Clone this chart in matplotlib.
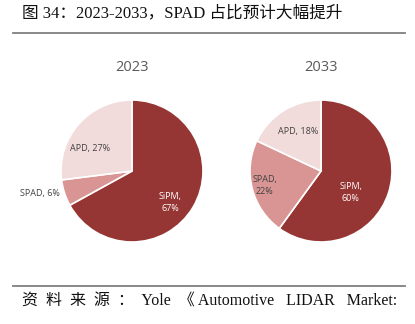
import matplotlib.pyplot as plt
from matplotlib.lines import Line2D

# Data
years = ["2023", "2033"]
categories = ["SiPM", "SPAD", "APD"]
share_2023 = [67, 6, 27]
share_2033 = [60, 22, 18]
colors = ["#963634", "#D99594", "#F2DCDB"]

W, H = 415, 324
fig = plt.figure(figsize=(W / 100, H / 100), dpi=100)

serif_cjk = ["Liberation Serif", "Noto Sans CJK SC"]
label_font = ["Open Sans", "DejaVu Sans"]


def px_axes(cx, cy, r):
    return fig.add_axes([(cx - r) / W, (H - cy - r) / H, 2 * r / W, 2 * r / H])


# label layout (unit-circle coords) and text colours
layouts = {
    "2023": {"SiPM": (0.54, -0.44, "SiPM,\n{}%"), "SPAD": (-1.30, -0.32, "SPAD, {}%"),
             "APD": (-0.59, 0.32, "APD, {}%")},
    "2033": {"SiPM": (0.42, -0.30, "SiPM,\n{}%"), "SPAD": (-0.79, -0.20, "SPAD,\n{}%"),
             "APD": (-0.32, 0.55, "APD, {}%")},
}
centers = {"2023": (132, 171, 71), "2033": (321, 171, 71)}

for year, values in zip(years, [share_2023, share_2033]):
    cx, cy, r = centers[year]
    ax = px_axes(cx, cy, r)
    ax.pie(values, colors=colors, startangle=90, counterclock=False, radius=1,
           wedgeprops=dict(edgecolor="white", linewidth=1.2))
    ax.set_xlim(-1, 1)
    ax.set_ylim(-1, 1)
    ax.set_aspect("equal")
    ax.axis("off")
    ax.text(0, 1.46, year, ha="center", va="center", fontsize=10.5,
            color="#595959", family=label_font, clip_on=False)
    for cat, v in zip(categories, values):
        x, y, fmt = layouts[year][cat]
        ax.text(x, y, fmt.format(v), ha="center", va="center", fontsize=6.5,
                color="white" if cat == "SiPM" else "#404040",
                family=label_font, linespacing=1.45, clip_on=False)

# title and rules
fig.text(22 / W, 1 - 13 / H, "图 34：2023-2033，SPAD 占比预计大幅提升",
         ha="left", va="center", fontsize=12, family=serif_cjk, color="#111111")
fig.add_artist(Line2D([13 / W, 405 / W], [1 - 33 / H, 1 - 33 / H],
                      transform=fig.transFigure, color="#7f7f7f", linewidth=1.3))
fig.add_artist(Line2D([13 / W, 405 / W], [1 - 286 / H, 1 - 286 / H],
                      transform=fig.transFigure, color="#7f7f7f", linewidth=1.3))
fig.text(22 / W, 1 - 301 / H, "资  料  来  源  ：  Yole  《 Automotive   LIDAR   Market:",
         ha="left", va="center", fontsize=11.5, family=serif_cjk, color="#111111")

fig.savefig("out.png", dpi=100)
